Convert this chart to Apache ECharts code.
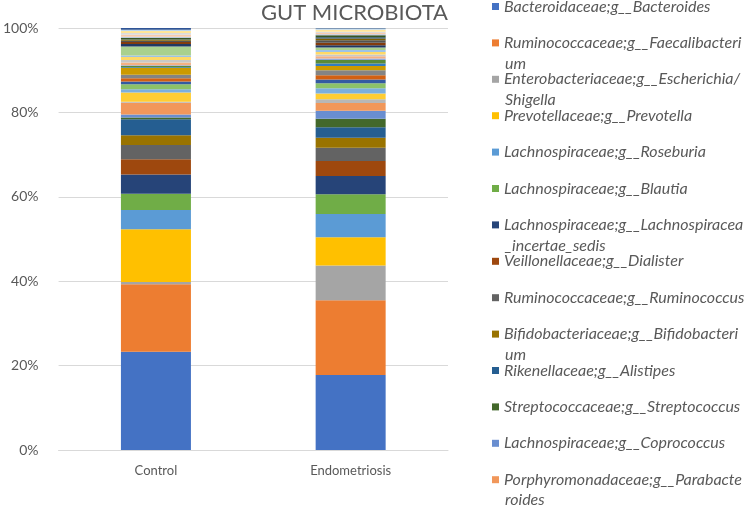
<!DOCTYPE html>
<html>
<head>
<meta charset="utf-8">
<script src="https://cdn.jsdelivr.net/npm/echarts@6/dist/echarts.min.js"></script>
<style>html,body{margin:0;padding:0;background:#fff}#c{width:750px;height:505px}</style>
</head>
<body>
<div id="c"></div>
<script>
// Categories
var categories = ['Control', 'Endometriosis'];

// Taxa shown in the (truncated) legend, bottom of stack first
var legendTaxa = [
  'Bacteroidaceae;g__Bacteroides',
  'Ruminococcaceae;g__Faecalibacterium',
  'Enterobacteriaceae;g__Escherichia/Shigella',
  'Prevotellaceae;g__Prevotella',
  'Lachnospiraceae;g__Roseburia',
  'Lachnospiraceae;g__Blautia',
  'Lachnospiraceae;g__Lachnospiracea_incertae_sedis',
  'Veillonellaceae;g__Dialister',
  'Ruminococcaceae;g__Ruminococcus',
  'Bifidobacteriaceae;g__Bifidobacterium',
  'Rikenellaceae;g__Alistipes',
  'Streptococcaceae;g__Streptococcus',
  'Lachnospiraceae;g__Coprococcus',
  'Porphyromonadaceae;g__Parabacteroides'
];

// Relative abundance (%) per taxon, in stack order (series 1..43)
var controlValues = [23.3, 16.0, 0.5, 12.5, 4.6, 3.8, 4.6, 3.6, 3.4, 2.3,
  3.8, 0.4, 0.7, 2.8, 0.2, 2.2, 0.8, 1.2, 0.6, 0.8,
  0.8, 1.6, 0.2, 0.3, 0.2, 0.6, 0.6, 0.7, 0.4, 2.1,
  0.6, 0.5, 0.3, 0.2, 0.1, 0.4, 0.2, 0.5, 0.4, 0.5,
  0.2, 0.1, 0.4];
var endometriosisValues = [17.8, 17.7, 8.2, 6.7, 5.5, 4.7, 4.3, 3.6, 3.1, 2.4,
  2.5, 2.0, 1.9, 1.8, 0.9, 1.4, 1.2, 1.2, 0.9, 1.0,
  1.2, 1.0, 0.6, 0.8, 0.4, 0.5, 0.4, 0.6, 0.5, 0.6,
  0.5, 0.6, 0.6, 0.4, 0.3, 0.5, 0.2, 0.3, 0.3, 0.5,
  0.2, 0.1, 0.1];

// Y axis tick values
var yTicks = [0, 20, 40, 60, 80, 100];

var palette = ['#4472C4','#ED7D31','#A5A5A5','#FFC000','#5B9BD5','#70AD47',
  '#264478','#9E480E','#636363','#997300','#255E91','#43682B',
  '#698ED0','#F1975A','#B7B7B7','#FFCD33','#7CAFDD','#8CC168',
  '#335AA1','#D26012','#848484','#CC9A00','#327DC2','#5A8A39',
  '#8FAADC','#F4B183','#C9C9C9','#FFD966','#9DC3E6','#A9D18E',
  '#203864','#843C0C','#525252','#7F6000','#1F4E79','#385723',
  '#B4C7E7','#F8CBAD','#DBDBDB','#FFE699','#BDD7EE','#C5E0B4',
  '#2F5597'];

// Wrapped legend labels (first line shown in legend, rest as continuation)
var firstLine = {
  'Ruminococcaceae;g__Faecalibacterium': ['Ruminococcaceae;g__Faecalibacteri', 'um'],
  'Enterobacteriaceae;g__Escherichia/Shigella': ['Enterobacteriaceae;g__Escherichia/', 'Shigella'],
  'Lachnospiraceae;g__Lachnospiracea_incertae_sedis': ['Lachnospiraceae;g__Lachnospiracea', '_incertae_sedis'],
  'Bifidobacteriaceae;g__Bifidobacterium': ['Bifidobacteriaceae;g__Bifidobacteri', 'um'],
  'Porphyromonadaceae;g__Parabacteroides': ['Porphyromonadaceae;g__Parabacte', 'roides']
};

var FONT = 'Lato';
var TXT = '#595959';
var LFS = 16;

var series = [];
for (var i = 0; i < controlValues.length; i++) {
  var nm = i < legendTaxa.length ? legendTaxa[i] : ('Other taxon ' + (i + 1));
  series.push({
    name: nm, type: 'bar', stack: 'total', barWidth: 70,
    data: [controlValues[i], endometriosisValues[i]],
    itemStyle: { color: palette[i % palette.length] },
    emphasis: { disabled: true }
  });
}

var pitch = 36.4, legendTop = -3, lineH = 19;
var graphics = [];
legendTaxa.forEach(function (n, k) {
  if (firstLine[n]) {
    graphics.push({
      type: 'text', left: 505, top: legendTop + k * pitch + lineH + 3,
      style: { text: firstLine[n][1], font: 'italic ' + LFS + 'px ' + FONT, fill: TXT }
    });
  }
});

var chart = echarts.init(document.getElementById('c'), null, { renderer: 'canvas' });
chart.setOption({
  animation: false,
  backgroundColor: '#ffffff',
  title: {
    text: 'GUT MICROBIOTA', right: 302, top: 2, padding: 0,
    textStyle: { fontFamily: FONT, fontSize: 22, fontWeight: 'normal', color: TXT }
  },
  legend: {
    data: legendTaxa, orient: 'vertical', left: 492, top: legendTop, padding: 0,
    icon: 'rect', itemWidth: 7, itemHeight: 7, itemGap: pitch - lineH,
    formatter: function (n) { return firstLine[n] ? firstLine[n][0] : n; },
    textStyle: { fontFamily: FONT, fontSize: LFS, fontStyle: 'italic', color: TXT, lineHeight: lineH }
  },
  graphic: graphics,
  grid: { left: 51, right: 302, top: 28, bottom: 55, containLabel: false },
  xAxis: {
    type: 'category', data: categories,
    axisTick: { show: false },
    axisLine: { lineStyle: { color: '#D9D9D9' } },
    axisLabel: { fontFamily: FONT, fontSize: 13, color: TXT, margin: 14 }
  },
  yAxis: {
    type: 'value', min: yTicks[0], max: yTicks[yTicks.length - 1], interval: yTicks[1] - yTicks[0],
    axisLine: { show: false }, axisTick: { show: false },
    splitLine: { lineStyle: { color: '#D9D9D9' } },
    axisLabel: { fontFamily: FONT, fontSize: 14, color: TXT, margin: 20, formatter: '{value}%' }
  },
  series: series
});
</script>
</body>
</html>
